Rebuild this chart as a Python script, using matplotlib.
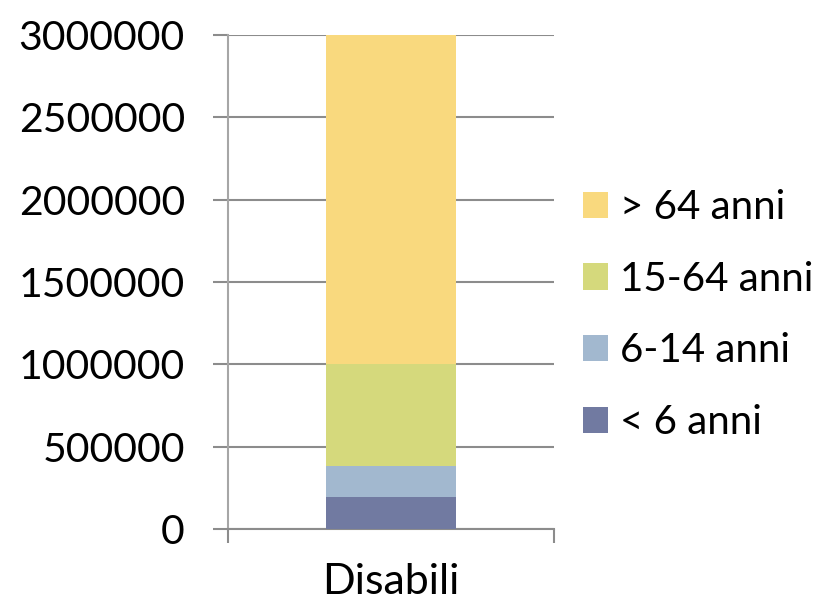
import matplotlib.pyplot as plt

plt.rcParams['font.family'] = ['Lato', 'DejaVu Sans']

# Disabled people by age group (stacked)
category = ['Disabili']
age_groups = ['< 6 anni', '6-14 anni', '15-64 anni', '> 64 anni']
values = [198000, 187000, 615000, 2000000]
colors = ['#717aa1', '#a2b8cf', '#d5d97c', '#f9d97e']

yticks = [0, 500000, 1000000, 1500000, 2000000, 2500000, 3000000]

fig = plt.figure(figsize=(8.27, 6.06), dpi=100)
ax = fig.add_axes([228 / 827, 76.7 / 606, 326 / 827, 494.6 / 606])

bottom = 0
bars = []
for label, val, col in zip(age_groups, values, colors):
    b = ax.bar(0, val, width=0.4, bottom=bottom, color=col, label=label, zorder=3)
    bars.append(b)
    bottom += val

ax.set_xlim(-0.5, 0.5)
ax.set_ylim(0, 3000000)
ax.set_yticks(yticks)
ax.set_yticklabels([str(t) for t in yticks])

grid_col = '#8c8c8c'
ax.yaxis.grid(True, color=grid_col, linewidth=1.5, zorder=1)
ax.set_axisbelow(True)

for side in ['top', 'right']:
    ax.spines[side].set_visible(False)
ax.spines['left'].set_color('#a6a6a6')
ax.spines['left'].set_linewidth(1.5)
ax.spines['bottom'].set_color(grid_col)
ax.spines['bottom'].set_linewidth(1.5)

ax.tick_params(axis='y', direction='out', length=11, width=1.5, color=grid_col,
               labelsize=29.5, pad=20)

# category label in the middle, boundary ticks at both ends
ax.set_xticks([0])
ax.set_xticklabels(category)
ax.tick_params(axis='x', which='major', length=0, labelsize=31, pad=24)
ax.set_xticks([-0.5, 0.5], minor=True)
ax.tick_params(axis='x', which='minor', direction='out', length=10, width=1.5,
               color=grid_col)

handles = [b[0] for b in bars][::-1]
fig.legend(handles, age_groups[::-1], loc='center left',
           bbox_to_anchor=(583 / 827, 1 - 315 / 606), frameon=False,
           fontsize=29, handlelength=0.62, handleheight=0.62, handletextpad=0.3,
           labelspacing=0.86, borderpad=0, borderaxespad=0)

fig.savefig('out.png', dpi=100)
